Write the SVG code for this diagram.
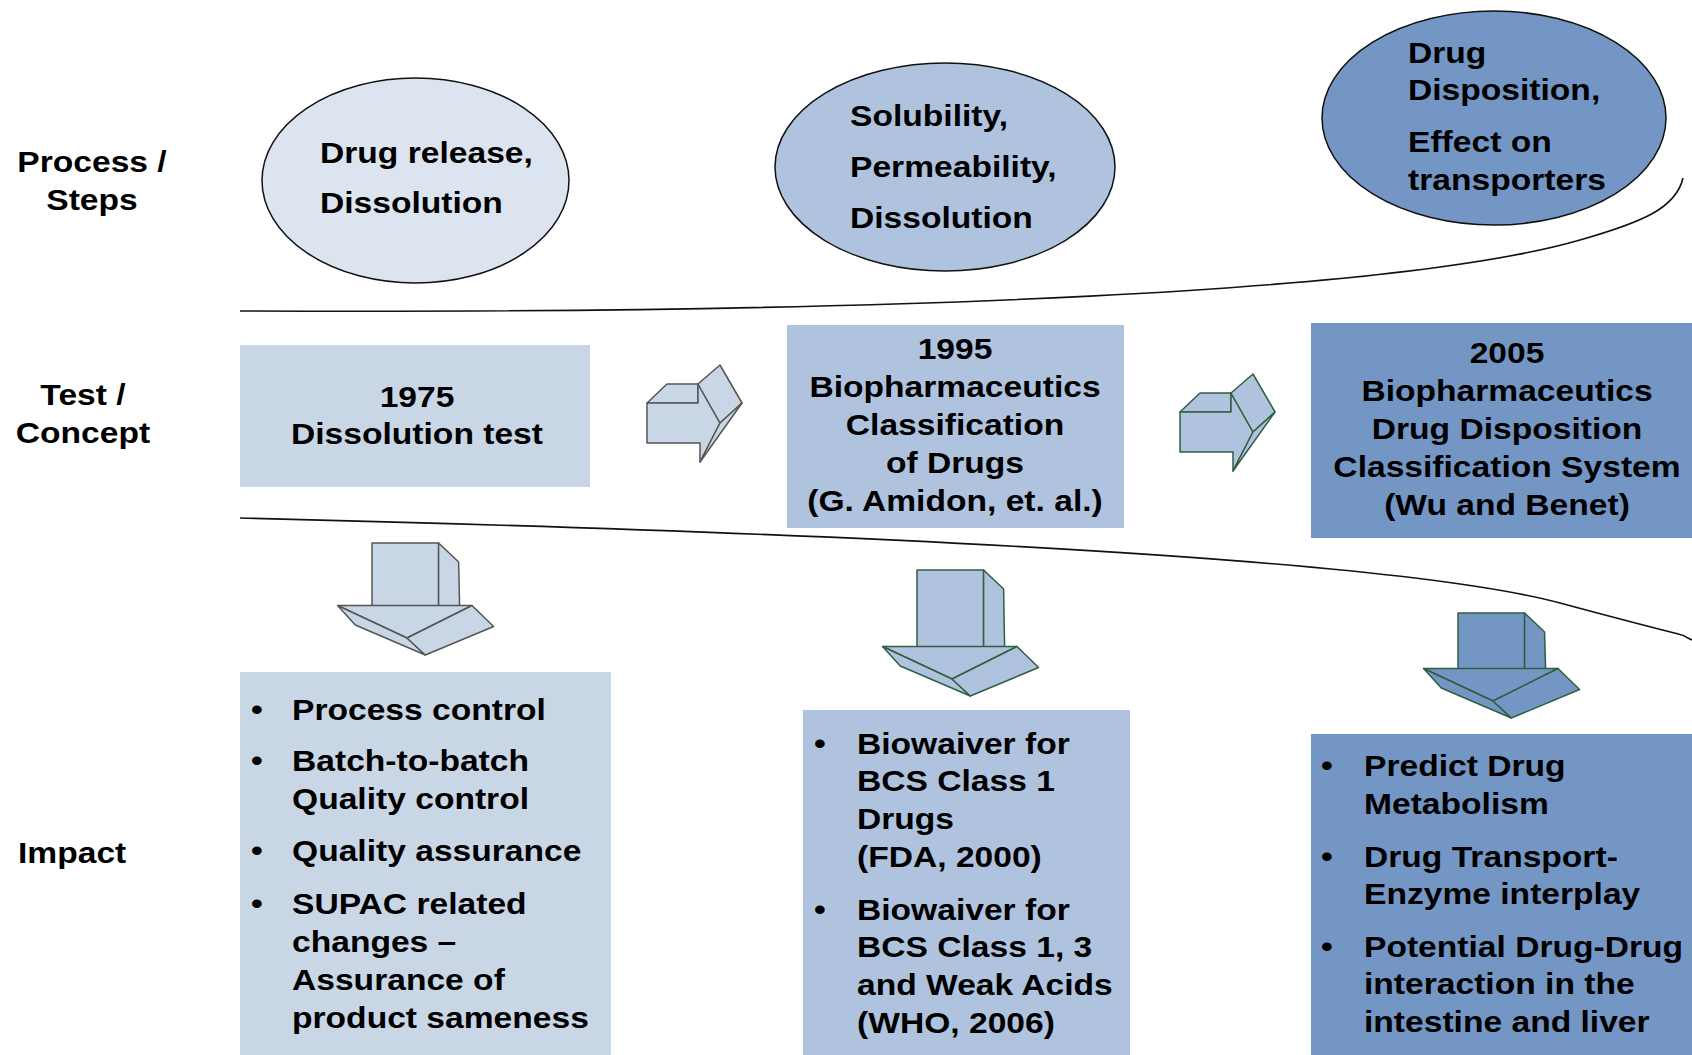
<svg xmlns="http://www.w3.org/2000/svg" xmlns:xlink="http://www.w3.org/1999/xlink" width="1692" height="1055" viewBox="0 0 1692 1055">
<style>
.t{font-family:"Liberation Sans",Arial,sans-serif;font-weight:bold;font-size:30px;fill:#000}
.l1{fill:#c9d6e6}
.l0{fill:#dce4ef}
.l2{fill:#b0c3de}
.l3{fill:#7496c4}
.ell{stroke:#111;stroke-width:1.5}
.sep{fill:none;stroke:#111;stroke-width:1.6}
.ag{stroke:#555;stroke-width:1.5;stroke-linejoin:round}
.agr{stroke:#2f5f40;stroke-width:1.5;stroke-linejoin:round}
</style>
<defs>
<g id="rarrow">
<path d="M0,0 L20,-19 L51,-19 L51,0 Z"/>
<path d="M0,0 L51,0 L51,-19 L73,20 L53,59 L53,40 L0,40 Z"/>
<path d="M51,-19 L73,-38 L95,0 L73,20 Z"/>
<path d="M73,20 L95,0 L53,59 Z"/>
</g>
</defs>
<rect width="1692" height="1055" fill="#fff"/>

<g id="separators">
<path class="sep" d="M240,311 C 900,314 1400,292 1580,240 C 1643,222 1676,208 1683,178"/>
<path class="sep" d="M240,518 C 900,534 1400,560 1560,603 S 1670,630 1692,640"/>
</g>

<g id="row-labels">
<g id="label-process"><text class="t" text-anchor="middle" transform="translate(92,0) scale(1.12,1)"><tspan x="0" y="172">Process /</tspan><tspan x="0" y="210">Steps</tspan></text></g>
<g id="label-test"><text class="t" text-anchor="middle" transform="translate(83,0) scale(1.12,1)"><tspan x="0" y="405">Test /</tspan><tspan x="0" y="443">Concept</tspan></text></g>
<g id="label-impact"><text class="t" transform="translate(18,0) scale(1.12,1)"><tspan x="0" y="863">Impact</tspan></text></g>
</g>

<g id="ellipse-1">
<ellipse class="ell l0" cx="415.5" cy="180.5" rx="153.5" ry="102.5"/>
<text class="t" transform="translate(320,0) scale(1.12,1)"><tspan x="0" y="163">Drug release,</tspan><tspan x="0" y="213">Dissolution</tspan></text>
</g>
<g id="ellipse-2">
<ellipse class="ell l2" cx="945" cy="167" rx="170" ry="104"/>
<text class="t" transform="translate(850,0) scale(1.12,1)"><tspan x="0" y="126">Solubility,</tspan><tspan x="0" y="177">Permeability,</tspan><tspan x="0" y="228">Dissolution</tspan></text>
</g>
<g id="ellipse-3">
<ellipse class="ell l3" cx="1494" cy="118" rx="172" ry="107"/>
<text class="t" transform="translate(1408,0) scale(1.12,1)"><tspan x="0" y="63">Drug</tspan><tspan x="0" y="100">Disposition,</tspan><tspan x="0" y="152">Effect on</tspan><tspan x="0" y="190">transporters</tspan></text>
</g>

<g id="box-1975">
<rect class="l1" x="240" y="345" width="350" height="142"/>
<text class="t" text-anchor="middle" transform="translate(417,0) scale(1.12,1)"><tspan x="0" y="407">1975</tspan><tspan x="0" y="444">Dissolution test</tspan></text>
</g>
<g id="box-1995">
<rect class="l2" x="787" y="325" width="337" height="203"/>
<text class="t" text-anchor="middle" transform="translate(955,0) scale(1.12,1)"><tspan x="0" y="359">1995</tspan><tspan x="0" y="397">Biopharmaceutics</tspan><tspan x="0" y="435">Classification</tspan><tspan x="0" y="473">of Drugs</tspan><tspan x="0" y="511">(G. Amidon, et. al.)</tspan></text>
</g>
<g id="box-2005">
<rect class="l3" x="1311" y="323" width="381" height="215"/>
<text class="t" text-anchor="middle" transform="translate(1507,0) scale(1.12,1)"><tspan x="0" y="363">2005</tspan><tspan x="0" y="401">Biopharmaceutics</tspan><tspan x="0" y="439">Drug Disposition</tspan><tspan x="0" y="477">Classification System</tspan><tspan x="0" y="515">(Wu and Benet)</tspan></text>
</g>

<g id="impact-1975">
<rect class="l1" x="240" y="672" width="371" height="383"/>
<text class="t" text-anchor="middle" transform="translate(257,0) scale(1.12,1)"><tspan x="0" y="720">•</tspan><tspan x="0" y="771">•</tspan><tspan x="0" y="861">•</tspan><tspan x="0" y="914">•</tspan></text>
<text class="t" transform="translate(292,0) scale(1.12,1)"><tspan x="0" y="720">Process control</tspan><tspan x="0" y="771">Batch-to-batch</tspan><tspan x="0" y="809">Quality control</tspan><tspan x="0" y="861">Quality assurance</tspan><tspan x="0" y="914">SUPAC related</tspan><tspan x="0" y="952">changes –</tspan><tspan x="0" y="990">Assurance of</tspan><tspan x="0" y="1028">product sameness</tspan></text>
</g>
<g id="impact-1995">
<rect class="l2" x="803" y="710" width="327" height="345"/>
<text class="t" text-anchor="middle" transform="translate(820,0) scale(1.12,1)"><tspan x="0" y="754">•</tspan><tspan x="0" y="920">•</tspan></text>
<text class="t" transform="translate(857,0) scale(1.12,1)"><tspan x="0" y="754">Biowaiver for</tspan><tspan x="0" y="791">BCS Class 1</tspan><tspan x="0" y="829">Drugs</tspan><tspan x="0" y="867">(FDA, 2000)</tspan><tspan x="0" y="920">Biowaiver for</tspan><tspan x="0" y="957">BCS Class 1, 3</tspan><tspan x="0" y="995">and Weak Acids</tspan><tspan x="0" y="1033">(WHO, 2006)</tspan></text>
</g>
<g id="impact-2005">
<rect class="l3" x="1311" y="734" width="381" height="321"/>
<text class="t" text-anchor="middle" transform="translate(1327,0) scale(1.12,1)"><tspan x="0" y="776">•</tspan><tspan x="0" y="867">•</tspan><tspan x="0" y="957">•</tspan></text>
<text class="t" transform="translate(1364,0) scale(1.12,1)"><tspan x="0" y="776">Predict Drug</tspan><tspan x="0" y="814">Metabolism</tspan><tspan x="0" y="867">Drug Transport-</tspan><tspan x="0" y="904">Enzyme interplay</tspan><tspan x="0" y="957">Potential Drug-Drug</tspan><tspan x="0" y="994">interaction in the</tspan><tspan x="0" y="1032">intestine and liver</tspan></text>
</g>

<g id="connectors">
<use xlink:href="#rarrow" href="#rarrow" x="647" y="403" class="l1 ag"/>
<use xlink:href="#rarrow" href="#rarrow" x="1180" y="412" class="l2 agr"/>
<g class="l1 ag" transform="translate(372,543)">
<path d="M0,0 H66.6 V63 H0 Z"/>
<path d="M66.6,0 L86.6,19 L87.6,63 L66.6,63 Z"/>
<path d="M-34.4,62.5 L100,62.5 L35,95 Z"/>
<path d="M-34.4,62.5 L35,95 L53.3,112 L-16.7,82 Z"/>
<path d="M35,95 L100,62.5 L121.6,83.5 L53.3,112 Z"/>
</g>
<g class="l2 agr" transform="translate(917,570)">
<path d="M0,0 H66.6 V77 H0 Z"/>
<path d="M66.6,0 L86.6,19 L87.6,77 L66.6,77 Z"/>
<path d="M-34.4,76.5 L100,76.5 L35,109 Z"/>
<path d="M-34.4,76.5 L35,109 L53.3,126 L-16.7,96 Z"/>
<path d="M35,109 L100,76.5 L121.6,97.5 L53.3,126 Z"/>
</g>
<g class="l3 agr" transform="translate(1458,613)">
<path d="M0,0 H66.6 V56 H0 Z"/>
<path d="M66.6,0 L86.6,19 L87.6,56 L66.6,56 Z"/>
<path d="M-34.4,55.5 L100,55.5 L35,88 Z"/>
<path d="M-34.4,55.5 L35,88 L53.3,105 L-16.7,75 Z"/>
<path d="M35,88 L100,55.5 L121.6,76.5 L53.3,105 Z"/>
</g>
</g>
</svg>
